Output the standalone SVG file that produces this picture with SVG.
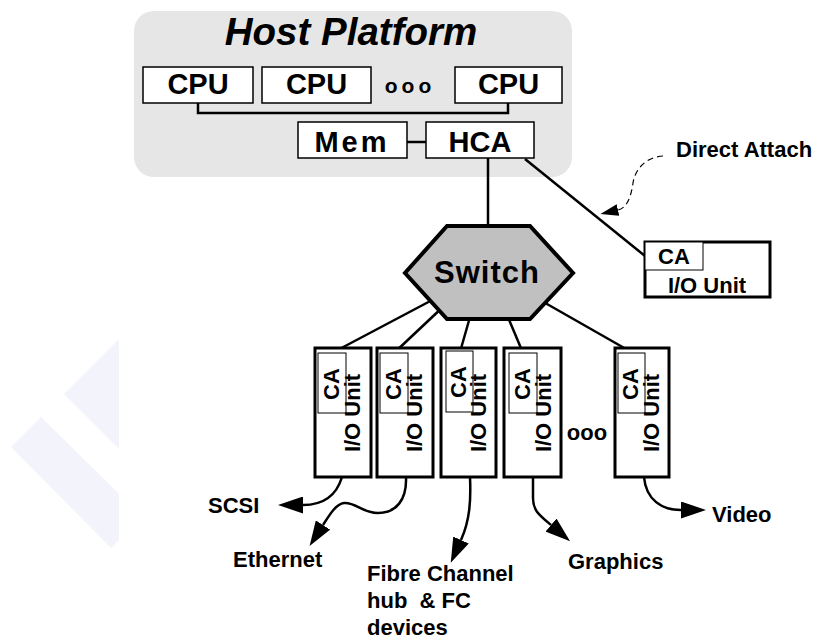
<svg xmlns="http://www.w3.org/2000/svg" width="814" height="641" viewBox="0 0 814 641">
<style>
  text { font-family: "Liberation Sans", Arial, sans-serif; font-weight: bold; fill: #000; }
  .box { fill: #fff; stroke: #000; stroke-width: 1.5; }
  .iobox { fill: #fff; stroke: #000; stroke-width: 3; }
  .cabox { fill: #fff; stroke: #000; stroke-width: 1; }
  .conn { fill: none; stroke: #000; stroke-width: 2.5; }
  .cpu { font-size: 29px; text-anchor: middle; }
  .lbl { font-size: 22px; }
  .rot { font-size: 22px; text-anchor: middle; }
  .wm { fill: #f3f3fc; }
</style>
<defs>
  <marker id="arr" markerUnits="userSpaceOnUse" viewBox="0 0 25 17" markerWidth="25" markerHeight="17" refX="0" refY="8.5" orient="auto">
    <path d="M0,0 L25,8.5 L0,17 z" fill="#000"/>
  </marker>
  <marker id="arrs" markerUnits="userSpaceOnUse" viewBox="0 0 18 12" markerWidth="18" markerHeight="12" refX="0" refY="6" orient="auto">
    <path d="M0,0 L18,6 L0,12 z" fill="#000"/>
  </marker>
</defs>

<g id="watermark">
  <polygon class="wm" points="64,394 119,339 119,449"/>
  <polygon class="wm" points="11,447 41,417 119,494 119,540 111,548"/>
</g>

<g id="host-platform">
  <rect x="134" y="11" width="438" height="166" rx="20" ry="20" fill="#e6e6e6"/>
  <text x="351" y="45" font-size="38.5" font-style="italic" text-anchor="middle">Host Platform</text>
</g>

<g id="connectors">
  <path class="conn" d="M198,103 V113 H508 V103"/>
  <line class="conn" x1="407" y1="142" x2="426" y2="142"/>
  <line class="conn" x1="488" y1="158" x2="488" y2="228"/>
  <line class="conn" x1="525" y1="159" x2="645" y2="256"/>
  <line class="conn" x1="436" y1="298" x2="332" y2="353"/>
  <line class="conn" x1="445" y1="305" x2="394" y2="353"/>
  <line class="conn" x1="472" y1="310" x2="460" y2="352"/>
  <line class="conn" x1="505" y1="310" x2="523" y2="353"/>
  <line class="conn" x1="540" y1="300" x2="633" y2="353"/>
  <path class="conn" d="M342,477 C336,497 322,505 303,505" marker-end="url(#arr)"/>
  <path class="conn" d="M406,477 C407,500 396,513 378,513 C362,513 356,502 344,503 C336,504 330,514 323,525" marker-end="url(#arr)"/>
  <path class="conn" d="M470,477 C471,500 470,520 461,540" marker-end="url(#arr)"/>
  <path class="conn" d="M533,477 L533,498 C533,510 538,514 551,525" marker-end="url(#arr)"/>
  <path class="conn" d="M644,477 C646,500 662,510 681,510" marker-end="url(#arr)"/>
  <path d="M663,156 C645,157 635,170 633,183 C631,197 627,208 618,210" fill="none" stroke="#000" stroke-width="1.2" stroke-dasharray="6,4" marker-end="url(#arrs)"/>
</g>

<g id="cpu1"><rect class="box" x="143" y="67" width="110" height="36"/><text class="cpu" x="198" y="94">CPU</text></g>
<g id="cpu2"><rect class="box" x="262" y="67" width="109" height="36"/><text class="cpu" x="316.5" y="94">CPU</text></g>
<g id="cpu-ellipsis"><text x="410" y="93" font-size="21" font-weight="normal" letter-spacing="4" text-anchor="middle">ooo</text></g>
<g id="cpu3"><rect class="box" x="455" y="67" width="107" height="36"/><text class="cpu" x="508.5" y="94">CPU</text></g>
<g id="mem"><rect class="box" x="298" y="122" width="109" height="36"/><text class="cpu" x="352" y="152" letter-spacing="3">Mem</text></g>
<g id="hca"><rect class="box" x="426" y="122" width="108" height="36"/><text class="cpu" x="480" y="152">HCA</text></g>

<g id="switch">
  <polygon points="447,226 530,226 573,273 530,319 447,319 405,273" fill="#c0c0c0" stroke="#000" stroke-width="4" stroke-linejoin="miter"/>
  <text x="487" y="283" font-size="31" text-anchor="middle" letter-spacing="1">Switch</text>
</g>

<g id="direct-io">
  <rect class="iobox" x="645" y="242" width="125" height="55" stroke-width="2.5"/>
  <rect class="cabox" x="645" y="242" width="58" height="28"/>
  <text class="lbl" x="674" y="264" text-anchor="middle">CA</text>
  <text class="lbl" x="707" y="293" text-anchor="middle">I/O Unit</text>
</g>

<g id="direct-attach-label"><text class="lbl" x="676" y="157">Direct Attach</text></g>

<g id="io1">
  <rect class="iobox" x="315" y="348" width="56" height="129"/>
  <rect class="cabox" x="318" y="353" width="28" height="60"/>
  <text class="rot" transform="translate(339,384) rotate(-90)">CA</text>
  <text class="rot" transform="translate(360,413) rotate(-90)">I/O Unit</text>
</g>
<g id="io2">
  <rect class="iobox" x="377" y="348" width="56" height="129"/>
  <rect class="cabox" x="380" y="353" width="28" height="60"/>
  <text class="rot" transform="translate(401,384) rotate(-90)">CA</text>
  <text class="rot" transform="translate(422,413) rotate(-90)">I/O Unit</text>
</g>
<g id="io3">
  <rect class="iobox" x="441" y="348" width="55" height="129"/>
  <rect class="cabox" x="446" y="351" width="27" height="61"/>
  <text class="rot" transform="translate(466,382) rotate(-90)">CA</text>
  <text class="rot" transform="translate(486,413) rotate(-90)">I/O Unit</text>
</g>
<g id="io4">
  <rect class="iobox" x="504" y="348" width="57" height="129"/>
  <rect class="cabox" x="509" y="353" width="28" height="60"/>
  <text class="rot" transform="translate(530,384) rotate(-90)">CA</text>
  <text class="rot" transform="translate(551,413) rotate(-90)">I/O Unit</text>
</g>
<g id="io-ellipsis"><text x="587" y="440" font-size="22" font-weight="normal" text-anchor="middle">ooo</text></g>
<g id="io5">
  <rect class="iobox" x="615" y="348" width="54" height="129"/>
  <rect class="cabox" x="618" y="353" width="27" height="60"/>
  <text class="rot" transform="translate(638,384) rotate(-90)">CA</text>
  <text class="rot" transform="translate(659,413) rotate(-90)">I/O Unit</text>
</g>

<g id="labels">
  <text class="lbl" x="208" y="513">SCSI</text>
  <text class="lbl" x="233" y="567">Ethernet</text>
  <text class="lbl" x="367" y="581">Fibre Channel</text>
  <text class="lbl" x="367" y="608" xml:space="preserve">hub  &amp; FC</text>
  <text class="lbl" x="367" y="635">devices</text>
  <text class="lbl" x="568" y="569">Graphics</text>
  <text class="lbl" x="712" y="522">Video</text>
</g>
</svg>
